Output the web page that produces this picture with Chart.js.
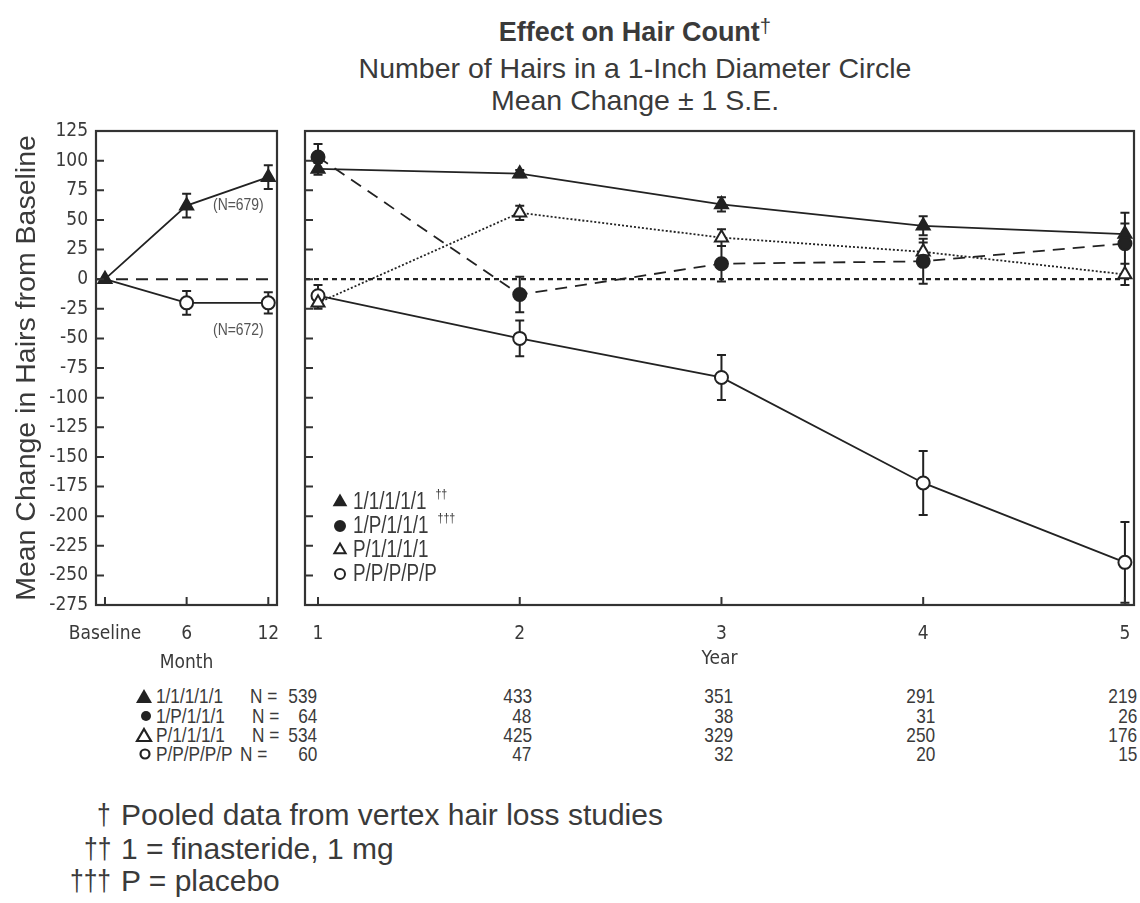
<!DOCTYPE html>
<html><head><meta charset="utf-8">
<script src="https://cdn.jsdelivr.net/npm/chart.js@4.4.1/dist/chart.umd.min.js"></script>
<style>
html,body{margin:0;padding:0;background:#fff}
body{width:1140px;height:903px;overflow:hidden;position:relative;font-family:'Liberation Sans',Arial,sans-serif;color:#3a3a3a}
.t{position:absolute;white-space:nowrap}
.sl{transform:scaleX(0.82);transform-origin:0 50%}
.sr{transform:scaleX(0.82);transform-origin:100% 50%}
canvas{position:absolute;top:0}
sup{font-size:75%;vertical-align:top;position:relative;top:-6px;font-weight:normal}
</style></head><body>
<div class="t" style="left:335px;width:600px;text-align:center;top:14px;line-height:36px;font-size:27px;font-weight:bold">Effect on Hair Count<sup>†</sup></div>
<div class="t" style="left:335px;width:600px;text-align:center;top:52px;line-height:32px;font-size:28.5px">Number of Hairs in a 1-Inch Diameter Circle</div>
<div class="t" style="left:335px;width:600px;text-align:center;top:84px;line-height:32px;font-size:28.5px">Mean Change ± 1 S.E.</div>

<canvas id="cl" width="300" height="680" style="left:0px;width:300px;height:680px"></canvas>
<canvas id="cr" width="850" height="680" style="left:290px;width:850px;height:680px"></canvas>

<div class="t sl" style="left:213px;top:195px;font-size:17px;line-height:20px;color:#555">(N=679)</div>
<div class="t sl" style="left:213px;top:320px;font-size:17px;line-height:20px;color:#555">(N=672)</div>

<div id="table"></div>
<div id="notes"></div>

<script>
// ---------- data ----------
const monthTicks = [0, 6, 12];
const monthLabels = ['Baseline', '6', '12'];
const finMonthMean = [0, 62, 86];
const finMonthSE = [0, 10, 10];
const pboMonthMean = [0, -20, -20];
const pboMonthSE = [0, 10, 9];

const years = [1, 2, 3, 4, 5];
const seriesNames = ['1/1/1/1/1', '1/P/1/1/1', 'P/1/1/1/1', 'P/P/P/P/P'];
const legendMarks = ['††', '†††', '', ''];
const mean1111 = [93, 89, 63, 45, 38];
const se1111 = [5, 3, 6, 8, 9];
const mean1P11 = [103, -13, 13, 15, 30];
const se1P11 = [11, 15, 15, 19, 26];
const meanP111 = [-20, 56, 35, 23, 4];
const seP111 = [5, 6, 7, 8, 9];
const meanPPPP = [-14, -50, -83, -172, -239];
const sePPPP = [9, 15, 19, 27, 34];

const n1111 = [539, 433, 351, 291, 219];
const n1P11 = [64, 48, 38, 31, 26];
const nP111 = [534, 425, 329, 250, 176];
const nPPPP = [60, 47, 32, 20, 15];

const footnotes = [['†', 'Pooled data from vertex hair loss studies'], ['††', '1 = finasteride, 1 mg'], ['†††', 'P = placebo']];

// ---------- styles ----------
const COND = "'DejaVu Sans Condensed','Liberation Sans',sans-serif";
const WIDE = "'Liberation Sans',Arial,sans-serif";
const INK = '#222';
const TXT = '#3a3a3a';
const styles = [
  {pointStyle: 'triangle', r: 7.5, fill: INK, dash: []},
  {pointStyle: 'circle', r: 6.5, fill: INK, dash: [12, 8]},
  {pointStyle: 'triangle', r: 7.5, fill: '#fff', dash: [2, 2]},
  {pointStyle: 'circle', r: 6.5, fill: '#fff', dash: []}
];

function mk(xs, ys) { return xs.map((x, i) => ({x: x, y: ys[i]})); }
function ds(label, data, errs, st, extra) {
  return Object.assign({
    label: label, data: data, errors: errs,
    borderColor: INK, borderWidth: 1.8, borderDash: st.dash,
    pointStyle: st.pointStyle, pointRadius: st.r, pointHoverRadius: st.r,
    pointBackgroundColor: st.fill, pointBorderColor: INK, pointBorderWidth: 2,
    tension: 0, fill: false
  }, extra || {});
}

function shape(ctx, style, r, x, y, fill) {
  ctx.save();
  ctx.beginPath();
  if (style === 'triangle') {
    for (let k = 0; k < 3; k++) {
      const a = k * 2 * Math.PI / 3;
      const px = x + Math.sin(a) * r, py = y - Math.cos(a) * r;
      if (k === 0) ctx.moveTo(px, py); else ctx.lineTo(px, py);
    }
    ctx.closePath();
  } else {
    ctx.arc(x, y, r, 0, Math.PI * 2);
  }
  ctx.fillStyle = fill; ctx.fill();
  ctx.lineWidth = 2; ctx.strokeStyle = INK; ctx.setLineDash([]); ctx.stroke();
  ctx.restore();
}

function narrowText(ctx, text, x, y, size) {
  ctx.save();
  ctx.font = size + 'px ' + WIDE;
  ctx.textBaseline = 'middle'; ctx.textAlign = 'left';
  ctx.translate(x, y); ctx.scale(0.82, 1);
  ctx.fillText(text, 0, 0);
  const w = ctx.measureText(text).width * 0.82;
  ctx.restore();
  return w;
}

const framePlugin = {
  id: 'frame',
  beforeDatasetsDraw(chart, args, opts) {
    const {ctx, chartArea: a} = chart;
    const x = chart.scales.x, y = chart.scales.y;
    ctx.save();
    ctx.beginPath(); ctx.rect(a.left, a.top, a.right - a.left, a.bottom - a.top); ctx.clip();
    const y0 = y.getPixelForValue(0);
    ctx.strokeStyle = INK; ctx.lineWidth = opts.zeroWidth; ctx.setLineDash(opts.zeroDash);
    ctx.beginPath(); ctx.moveTo(a.left, y0); ctx.lineTo(a.right, y0); ctx.stroke();
    ctx.setLineDash([]);
    ctx.lineWidth = 2;
    chart.data.datasets.forEach(d => {
      d.data.forEach((p, j) => {
        const e = d.errors[j];
        if (!e) return;
        const xp = x.getPixelForValue(p.x);
        const yt = y.getPixelForValue(p.y + e), yb = y.getPixelForValue(p.y - e);
        ctx.beginPath();
        ctx.moveTo(xp, yt); ctx.lineTo(xp, yb);
        ctx.moveTo(xp - 4.5, yt); ctx.lineTo(xp + 4.5, yt);
        ctx.moveTo(xp - 4.5, yb); ctx.lineTo(xp + 4.5, yb);
        ctx.stroke();
      });
    });
    ctx.restore();
  },
  afterDraw(chart, args, opts) {
    const {ctx, chartArea: a} = chart;
    const x = chart.scales.x, y = chart.scales.y;
    ctx.save();
    ctx.strokeStyle = '#333'; ctx.lineWidth = 2.2; ctx.setLineDash([]);
    ctx.strokeRect(a.left, a.top, a.right - a.left, a.bottom - a.top);
    ctx.lineWidth = 2;
    ctx.beginPath();
    y.ticks.forEach(t => {
      const py = y.getPixelForValue(t.value);
      ctx.moveTo(a.left, py); ctx.lineTo(a.left + 8, py);
    });
    x.ticks.forEach(t => {
      const px = x.getPixelForValue(t.value);
      ctx.moveTo(px, a.bottom); ctx.lineTo(px, a.bottom - 8);
    });
    ctx.stroke();
    if (opts.legend) {
      const lx = a.left + 35, ly0 = 502, step = 24;
      chart.data.datasets.forEach((d, i) => {
        const yy = ly0 + i * step;
        const st = styles[i];
        shape(ctx, st.pointStyle, st.pointStyle === 'triangle' ? 6.5 : 5, lx, yy, st.fill);
        ctx.fillStyle = TXT;
        const w = narrowText(ctx, d.label, lx + 13, yy + 1, 23);
        if (legendMarks[i]) {
          narrowText(ctx, legendMarks[i], lx + 13 + w + 9, yy - 8, 13);
        }
      });
    }
    ctx.restore();
  }
};

const tickFont = {family: COND, size: 19};
// invisible tick marks push the labels down without adding side padding
const hiddenGrid = {display: true, drawOnChartArea: false, drawTicks: true, tickLength: 17, tickColor: 'rgba(0,0,0,0)', color: 'rgba(0,0,0,0)'};

// ---------- left panel (months) ----------
const left = new Chart(document.getElementById('cl'), {
  type: 'line',
  data: {datasets: [
    ds('finasteride 1 mg', mk(monthTicks, finMonthMean), finMonthSE, styles[0]),
    ds('placebo', mk(monthTicks, pboMonthMean), pboMonthSE, styles[3], {pointRadius: [0, 6.5, 6.5]})
  ]},
  options: {
    responsive: false, animation: false, devicePixelRatio: 1,
    layout: {autoPadding: false, padding: {top: 131, left: 0, right: 23, bottom: 0}},
    plugins: {legend: {display: false}, tooltip: {enabled: false},
      frame: {zeroDash: [12, 8], zeroWidth: 2, legend: false}},
    scales: {
      x: {type: 'linear', min: -0.66, max: 12.64,
        afterBuildTicks: s => { s.ticks = monthTicks.map(v => ({value: v})); },
        ticks: {autoSkip: false, maxRotation: 0, padding: 1, font: tickFont, color: TXT,
          callback: (v) => monthLabels[monthTicks.indexOf(v)]},
        grid: hiddenGrid, border: {display: false},
        title: {display: true, text: 'Month', font: tickFont, color: TXT, padding: {top: 0, bottom: 6}},
        afterFit: s => { s.height = 75; }
      },
      y: {min: -275, max: 125,
        afterBuildTicks: s => { const t = []; for (let v = -275; v <= 125; v += 25) t.push({value: v}); s.ticks = t; },
        ticks: {padding: 8, font: tickFont, color: TXT, autoSkip: false},
        grid: {display: false, drawTicks: false}, border: {display: false},
        title: {display: true, text: 'Mean Change in Hairs from Baseline', font: {family: WIDE, size: 28.5}, color: TXT, padding: {top: 10, bottom: 0}},
        afterFit: s => { s.width = 96; }
      }
    }
  },
  plugins: [framePlugin]
});

// ---------- right panel (years) ----------
const right = new Chart(document.getElementById('cr'), {
  type: 'line',
  data: {datasets: [
    ds(seriesNames[0], mk(years, mean1111), se1111, styles[0]),
    ds(seriesNames[1], mk(years, mean1P11), se1P11, styles[1]),
    ds(seriesNames[2], mk(years, meanP111), seP111, styles[2]),
    ds(seriesNames[3], mk(years, meanPPPP), sePPPP, styles[3])
  ]},
  options: {
    responsive: false, animation: false, devicePixelRatio: 1,
    layout: {autoPadding: false, padding: {top: 131, left: 0, right: 6, bottom: 0}},
    plugins: {legend: {display: false}, tooltip: {enabled: false},
      frame: {zeroDash: [5, 4], zeroWidth: 2.4, legend: true}},
    scales: {
      x: {type: 'linear', min: 0.9355, max: 5.045,
        afterBuildTicks: s => { s.ticks = years.map(v => ({value: v})); },
        ticks: {autoSkip: false, maxRotation: 0, padding: 1, font: tickFont, color: TXT,
          callback: v => String(v)},
        grid: hiddenGrid, border: {display: false},
        title: {display: true, text: 'Year', font: tickFont, color: TXT, padding: {top: 0, bottom: 10}},
        afterFit: s => { s.height = 75; }
      },
      y: {min: -275, max: 125,
        afterBuildTicks: s => { const t = []; for (let v = -275; v <= 125; v += 25) t.push({value: v}); s.ticks = t; },
        ticks: {display: false},
        grid: {display: false, drawTicks: false}, border: {display: false},
        afterFit: s => { s.width = 15; }
      }
    }
  },
  plugins: [framePlugin]
});

// ---------- N table ----------
const tbl = document.getElementById('table');
const rowsN = [n1111, n1P11, nP111, nPPPP];
const rowY = [696, 716, 735, 754];
const nX = [250, 252, 252, 240];
const svgMarks = [
  '<svg width="18" height="16"><polygon points="9,1 17,15 1,15" fill="#222"/></svg>',
  '<svg width="18" height="16"><circle cx="11" cy="8" r="5" fill="#222"/></svg>',
  '<svg width="18" height="16"><polygon points="9,2 16,14 2,14" fill="#fff" stroke="#222" stroke-width="2.2"/></svg>',
  '<svg width="18" height="16"><circle cx="10" cy="8" r="4.5" fill="#fff" stroke="#222" stroke-width="2.2"/></svg>'
];
const FS = 'font-size:21px;line-height:24px;';
let html = '';
rowsN.forEach((row, i) => {
  const top = rowY[i] - 12;
  html += '<div class="t" style="left:135px;top:' + (top + 4) + 'px">' + svgMarks[i] + '</div>';
  html += '<div class="t sl" style="left:156px;top:' + top + 'px;' + FS + '">' + seriesNames[i] + '</div>';
  html += '<div class="t sl" style="left:' + nX[i] + 'px;top:' + top + 'px;' + FS + '">N =</div>';
  row.forEach((v, j) => {
    const px = 290 + right.scales.x.getPixelForValue(years[j]) + (j === 0 ? -1 : 12);
    html += '<div class="t sr" style="right:' + (1140 - px) + 'px;top:' + top + 'px;' + FS + '">' + v + '</div>';
  });
});
tbl.innerHTML = html;

// ---------- footnotes ----------
const fy = [815, 849, 881];
let fh = '';
footnotes.forEach((f, i) => {
  const top = fy[i] - 17;
  fh += '<div class="t sr" style="right:' + (1140 - 111) + 'px;top:' + top + 'px;font-size:30px;line-height:34px">' + f[0] + '</div>';
  fh += '<div class="t" style="left:121px;top:' + top + 'px;font-size:30px;line-height:34px">' + f[1] + '</div>';
});
document.getElementById('notes').innerHTML = fh;
</script>
</body></html>
